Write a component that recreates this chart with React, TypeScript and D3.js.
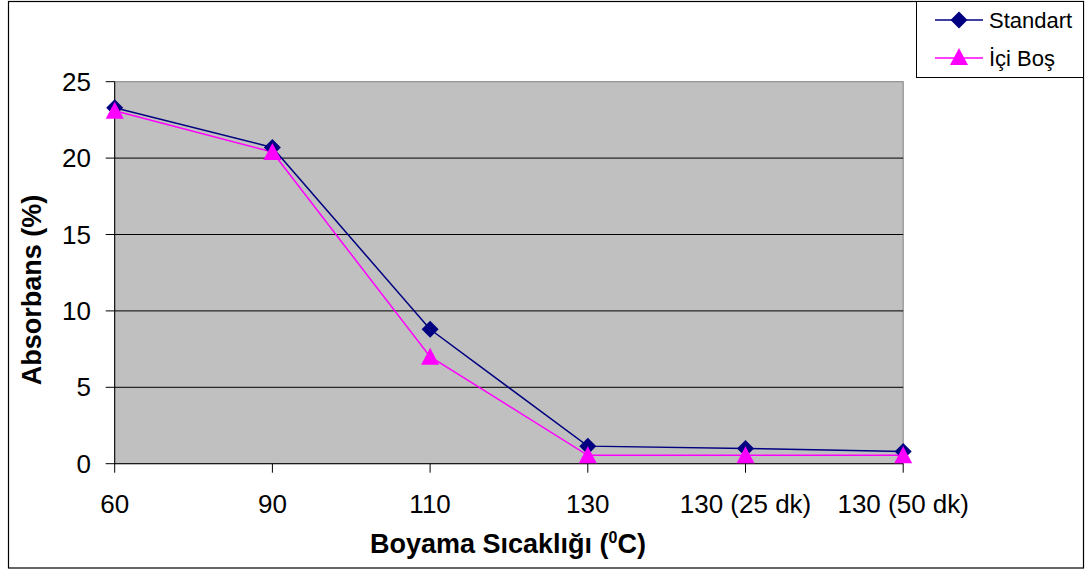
import React from "react";
import * as d3 from "d3";

const categories = ["60", "90", "110", "130", "130 (25 dk)", "130 (50 dk)"];
const standartValues = [23.3, 20.7, 8.8, 1.15, 1.0, 0.8];
const iciBosValues = [23.1, 20.4, 7.0, 0.55, 0.55, 0.55];
const yTicks = [0, 5, 10, 15, 20, 25];
const seriesNames = ["Standart", "İçi Boş"];

const W = 1085;
const H = 570;
const plot = { left: 114.7, right: 903.2, top: 81.7, bottom: 463.7 };
const FONT = "'Liberation Sans', Arial, sans-serif";

export default function App() {
  const x = d3.scalePoint<string>().domain(categories).range([plot.left, plot.right]);
  const y = d3.scaleLinear().domain([0, 25]).range([plot.bottom, plot.top]);
  const line = d3
    .line<number>()
    .x((_, i) => x(categories[i]) as number)
    .y((d) => y(d));

  const diamond = (cx: number, cy: number, r = 8.5) =>
    `M${cx},${cy - r}L${cx + r},${cy}L${cx},${cy + r}L${cx - r},${cy}Z`;
  const triangle = (cx: number, cy: number, w = 9, h = 16) =>
    `M${cx},${cy - h / 2 - 1}L${cx + w},${cy + h / 2}L${cx - w},${cy + h / 2}Z`;

  const navy = "#000080";
  const magenta = "#FF00FF";

  return (
    <svg
      width={W}
      height={H}
      style={{ position: "absolute", left: 0, top: 0, background: "#fff" }}
      fontFamily={FONT}
    >
      <rect x={8.5} y={1.5} width={1075} height={566.5} fill="#fff" stroke="#000" strokeWidth={1.2} />
      {/* plot area */}
      <rect
        x={plot.left}
        y={plot.top}
        width={plot.right - plot.left}
        height={plot.bottom - plot.top}
        fill="#C0C0C0"
        stroke="#808080"
        strokeWidth={1}
      />
      {/* gridlines */}
      {yTicks
        .filter((t) => t > 0 && t < 25)
        .map((t) => (
          <line key={t} x1={plot.left} x2={plot.right} y1={y(t)} y2={y(t)} stroke="#000" strokeWidth={1} />
        ))}
      {/* axes */}
      <line x1={plot.left} x2={plot.left} y1={plot.top} y2={plot.bottom} stroke="#000" strokeWidth={1} />
      <line x1={plot.left} x2={plot.right} y1={plot.bottom} y2={plot.bottom} stroke="#000" strokeWidth={1} />
      {yTicks.map((t) => (
        <g key={t}>
          <line x1={plot.left - 9} x2={plot.left} y1={y(t)} y2={y(t)} stroke="#000" />
          <text x={91} y={y(t)} dy="0.35em" textAnchor="end" fontSize={26} fill="#000">
            {t}
          </text>
        </g>
      ))}
      {categories.map((c) => (
        <g key={c}>
          <line x1={x(c)} x2={x(c)} y1={plot.bottom} y2={plot.bottom + 9} stroke="#000" />
          <text x={x(c)} y={513} textAnchor="middle" fontSize={26} fill="#000">
            {c}
          </text>
        </g>
      ))}
      {/* axis titles */}
      <text x={508} y={553} textAnchor="middle" fontSize={27} fontWeight="bold" fill="#000">
        Boyama Sıcaklığı (<tspan fontSize={16} dy={-10}>0</tspan>
        <tspan dy={10}>C)</tspan>
      </text>
      <text
        transform={`translate(41,290) rotate(-90)`}
        textAnchor="middle"
        fontSize={27}
        fontWeight="bold"
        fill="#000"
      >
        Absorbans (%)
      </text>
      {/* series */}
      <path d={line(standartValues) || ""} fill="none" stroke={navy} strokeWidth={1.5} />
      <path d={line(iciBosValues) || ""} fill="none" stroke={magenta} strokeWidth={1.5} />
      {standartValues.map((v, i) => (
        <path key={"s" + i} d={diamond(x(categories[i]) as number, y(v))} fill={navy} />
      ))}
      {iciBosValues.map((v, i) => (
        <path key={"b" + i} d={triangle(x(categories[i]) as number, y(v))} fill={magenta} />
      ))}
      {/* legend */}
      <rect x={916.5} y={1.5} width={167} height={76} fill="#fff" stroke="#000" strokeWidth={1} />
      <line x1={935} x2={983} y1={20} y2={20} stroke={navy} strokeWidth={1.5} />
      <path d={diamond(959, 20)} fill={navy} />
      <text x={989} y={20} dy="0.35em" fontSize={22} fill="#000">
        {seriesNames[0]}
      </text>
      <line x1={935} x2={983} y1={58} y2={58} stroke={magenta} strokeWidth={1.5} />
      <path d={triangle(959, 57)} fill={magenta} />
      <text x={989} y={58} dy="0.35em" fontSize={22} fill="#000">
        {seriesNames[1]}
      </text>
    </svg>
  );
}
